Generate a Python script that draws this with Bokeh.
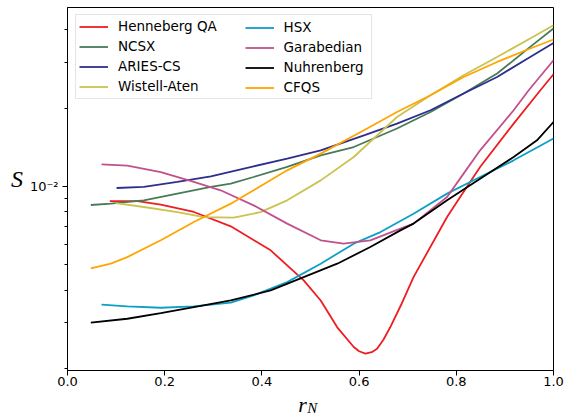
from bokeh.plotting import figure
from bokeh.models import (Range1d, FixedTicker, PrintfTickFormatter, Legend,
                          LegendItem, Label)
from bokeh.embed import file_html
from bokeh.resources import INLINE

# ---------------- data ----------------
henneberg_x = [0.087, 0.144, 0.192, 0.260, 0.336, 0.418, 0.486, 0.521, 0.555,
               0.589, 0.600, 0.613, 0.626, 0.637, 0.650, 0.664, 0.686, 0.712,
               0.781, 0.808, 0.849, 0.918, 0.973, 1.0]
henneberg_y = [0.00880, 0.00880, 0.00853, 0.00799, 0.00704, 0.00569, 0.00436,
               0.00365, 0.00288, 0.00242, 0.00233, 0.00228, 0.00231, 0.00238,
               0.00258, 0.00288, 0.00350, 0.00449, 0.00764, 0.00912, 0.01190,
               0.01747, 0.02346, 0.02704]

ncsx_x = [0.048, 0.089, 0.157, 0.226, 0.295, 0.336, 0.383, 0.452, 0.521, 0.589,
          0.678, 0.747, 0.815, 0.884, 0.952, 1.0]
ncsx_y = [0.00850, 0.00860, 0.00886, 0.00940, 0.00997, 0.01027, 0.01089,
          0.01190, 0.01319, 0.01420, 0.01672, 0.01936, 0.02279, 0.02720,
          0.03443, 0.04053]

aries_x = [0.101, 0.157, 0.226, 0.295, 0.383, 0.452, 0.521, 0.610, 0.678,
           0.747, 0.815, 0.884, 0.952, 1.0]
aries_y = [0.00988, 0.00997, 0.01042, 0.01095, 0.01197, 0.01281, 0.01379,
           0.01575, 0.01747, 0.01966, 0.02279, 0.02639, 0.03151, 0.03567]

wistell_x = [0.099, 0.157, 0.226, 0.281, 0.342, 0.397, 0.452, 0.521, 0.589,
             0.678, 0.747, 0.815, 0.884, 0.952, 1.0]
wistell_y = [0.00865, 0.00835, 0.00798, 0.00764, 0.00760, 0.00798, 0.00886,
             0.01057, 0.01300, 0.01852, 0.02245, 0.02680, 0.03151, 0.03709,
             0.04173]

hsx_x = [0.070, 0.123, 0.192, 0.260, 0.336, 0.383, 0.452, 0.521, 0.589, 0.644,
         0.712, 0.781, 0.849, 0.918, 1.0]
hsx_y = [0.003517, 0.003464, 0.003424, 0.003464, 0.003580, 0.003819, 0.004296,
         0.005056, 0.006037, 0.006689, 0.00787, 0.00940, 0.01089, 0.01262,
         0.01530]

garabedian_x = [0.070, 0.123, 0.192, 0.260, 0.315, 0.383, 0.452, 0.521, 0.568,
                0.623, 0.685, 0.712, 0.781, 0.815, 0.849, 0.918, 0.949, 1.0]
garabedian_y = [0.01218, 0.01205, 0.01138, 0.01042, 0.00968, 0.00847, 0.00721,
                0.00622, 0.00604, 0.00622, 0.00690, 0.00721, 0.00912, 0.01122,
                0.01379, 0.01966, 0.02346, 0.03060]

nuhrenberg_x = [0.048, 0.123, 0.192, 0.260, 0.336, 0.418, 0.486, 0.555, 0.623,
                0.685, 0.712, 0.781, 0.849, 0.918, 0.966, 1.0]
nuhrenberg_y = [0.00300, 0.003106, 0.003264, 0.003442, 0.003652, 0.003991,
                0.004490, 0.005056, 0.005858, 0.006792, 0.00721, 0.00886,
                0.01073, 0.01300, 0.01507, 0.01772]

cfqs_x = [0.048, 0.089, 0.123, 0.192, 0.260, 0.336, 0.383, 0.452, 0.521, 0.610,
          0.678, 0.747, 0.815, 0.884, 0.952, 1.0]
cfqs_y = [0.004851, 0.005056, 0.005361, 0.00622, 0.00731, 0.00860, 0.00968,
          0.01155, 0.01339, 0.01646, 0.01936, 0.02245, 0.02639, 0.03014,
          0.03395, 0.03677]

series_col1 = [
    ("Henneberg QA", henneberg_x, henneberg_y, "#ee1d23"),
    ("NCSX", ncsx_x, ncsx_y, "#477b58"),
    ("ARIES-CS", aries_x, aries_y, "#2d2f8e"),
    ("Wistell-Aten", wistell_x, wistell_y, "#cbc24f"),
]
series_col2 = [
    ("HSX", hsx_x, hsx_y, "#0d9fc6"),
    ("Garabedian", garabedian_x, garabedian_y, "#c1518b"),
    ("Nuhrenberg", nuhrenberg_x, nuhrenberg_y, "#000000"),
    ("CFQS", cfqs_x, cfqs_y, "#ffa500"),
]

x_ticks = [0.0, 0.2, 0.4, 0.6, 0.8, 1.0]
y_major = [0.01]
y_minor = [0.002, 0.003, 0.004, 0.005, 0.006, 0.007, 0.008, 0.009,
           0.02, 0.03, 0.04]
y_labels = {0.01: "10\u207b\u00b2"}
x_title, x_title_sub, y_title = "r", "N", "S"

# ---------------- figure ----------------
p = figure(width=565, height=417, y_axis_type="log",
           x_range=Range1d(0.0, 1.0), y_range=Range1d(0.001965, 0.0488),
           output_backend="svg", toolbar_location=None)
p.min_border_left = 67
p.min_border_right = 12
p.min_border_top = 7
p.min_border_bottom = 47
p.grid.visible = False
p.outline_line_color = "black"
p.outline_line_width = 1
p.background_fill_color = "white"
p.border_fill_color = "white"

for ax in (p.xaxis[0], p.yaxis[0]):
    ax.axis_line_color = "black"
    ax.major_tick_line_color = "black"
    ax.minor_tick_line_color = "black"
    ax.major_tick_in = 0
    ax.major_tick_out = 5
    ax.minor_tick_in = 0
    ax.minor_tick_out = 3
    ax.major_label_text_font = "DejaVu Sans"
    ax.major_label_text_font_size = "13px"
    ax.major_label_text_color = "black"

p.xaxis.ticker = FixedTicker(ticks=x_ticks, minor_ticks=[])
p.xaxis.formatter = PrintfTickFormatter(format="%.1f")
p.xaxis.major_label_standoff = 1
p.yaxis.ticker = FixedTicker(ticks=y_major, minor_ticks=y_minor)
p.yaxis.major_label_overrides = y_labels
p.yaxis.major_label_standoff = 4

items1, items2 = [], []
for name, xs, ys, col in series_col1:
    r = p.line(xs, ys, line_color=col, line_width=1.8)
    items1.append(LegendItem(label=name, renderers=[r]))
for name, xs, ys, col in series_col2:
    r = p.line(xs, ys, line_color=col, line_width=1.8)
    items2.append(LegendItem(label=name, renderers=[r]))

common = dict(glyph_width=29, glyph_height=17, label_height=17, spacing=3,
              padding=3, label_standoff=10, label_text_font="DejaVu Sans",
              label_text_font_size="13.5px", label_text_color="black")
leg1 = Legend(items=items1, location=(8, 271.5), label_width=250,
              border_line_color="#cccccc", background_fill_color="white",
              background_fill_alpha=0.8, **common)
leg2 = Legend(items=items2, location=(174.6, 271.5),
              border_line_alpha=0, background_fill_alpha=0, **common)
p.add_layout(leg1, "center")
p.add_layout(leg2, "center")

serif = dict(text_font="Liberation Serif", text_font_style="italic",
             text_color="black", text_baseline="alphabetic")
p.add_layout(Label(x=-0.104, y=0.010668, text=y_title, text_font_size="24px",
                   text_align="center", **serif), "left")
p.add_layout(Label(x=0.4836, y=0.001455, text=x_title, text_font_size="22px",
                   text_align="center", **serif), "right")
p.add_layout(Label(x=0.4935, y=0.001416, text=x_title_sub, text_font_size="15px",
                   text_align="left", **serif), "left")

open("out.html", "w").write(file_html(p, INLINE))
